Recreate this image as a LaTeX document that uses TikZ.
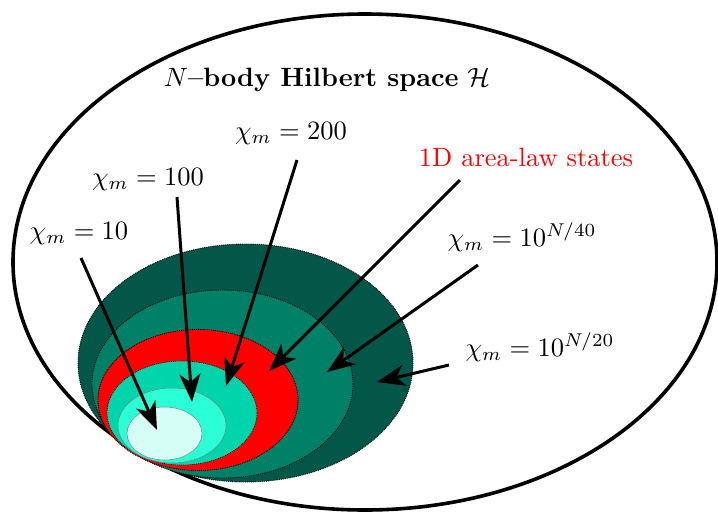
\documentclass[tikz,border=0pt]{standalone}
\usepackage{amsmath}
\usetikzlibrary{arrows.meta}
\definecolor{cdark}{RGB}{3,87,72}
\definecolor{cteal}{RGB}{0,128,102}
\definecolor{cmid}{RGB}{0,212,170}
\definecolor{clight}{RGB}{42,255,213}
\definecolor{cpale}{RGB}{213,255,246}
\tikzset{
  blob/.style={draw=black, line width=0.9pt, densely dotted},
  innerblob/.style={draw=gray, line width=0.5pt},
  pointer/.style={line width=3pt, -{Stealth[length=28pt,width=21pt,inset=8pt]}},
  lab/.style={inner sep=0pt, scale=2.65, transform shape},
}
\begin{document}
\begin{tikzpicture}[x=1pt,y=-1pt]
\useasboundingbox (0,0) rectangle (718,515);
% outer Hilbert space
\draw[line width=3.6pt] (365,262) ellipse [x radius=352, y radius=248];
% nested regions
\fill[cdark] (245.5,363) ellipse [x radius=167.5, y radius=119];
\draw[blob] (245.5,363) ellipse [x radius=167.5, y radius=119];
\fill[cteal] (222.5,384) ellipse [x radius=130.5, y radius=94];
\draw[blob] (222.5,384) ellipse [x radius=130.5, y radius=94];
\fill[red] (198,400) ellipse [x radius=100, y radius=70.5];
\draw[blob] (198,400) ellipse [x radius=100, y radius=70.5];
\fill[cmid] (182,413) ellipse [x radius=75, y radius=52];
\draw[blob,line width=0.6pt] (182,413) ellipse [x radius=75, y radius=52];
\fill[clight] (172,425.5) ellipse [x radius=54, y radius=37.5];
\draw[innerblob] (172,425.5) ellipse [x radius=54, y radius=37.5];
\fill[cpale] (164.5,433.5) ellipse [x radius=37.5, y radius=26.5];
\draw[innerblob] (164.5,433.5) ellipse [x radius=37.5, y radius=26.5];
% labels
\node[lab] (title) at (327,80) {$N$\textbf{--body Hilbert space} $\mathcal{H}$};
\node[lab] (l10) at (79,234) {$\chi_m = 10$};
\node[lab] (l100) at (148,180) {$\chi_m = 100$};
\node[lab] (l200) at (291,134) {$\chi_m = 200$};
\node[lab, text=red] (larea) at (526,157) {1D area-law states};
\node[lab] (l40) at (522,237) {$\chi_m = 10^{N/40}$};
\node[lab] (l20) at (540,347) {$\chi_m = 10^{N/20}$};
% arrow ends
\coordinate (s10) at (81,258);  \coordinate (t10) at (157,430);
\coordinate (s100) at (177,197); \coordinate (t100) at (192,402);
\coordinate (s200) at (297,160); \coordinate (t200) at (226,386);
\coordinate (sarea) at (460,180); \coordinate (tarea) at (269,371);
\coordinate (s40) at (478,265); \coordinate (t40) at (327,372);
\coordinate (s20) at (449,365); \coordinate (t20) at (377,382);
\draw[pointer] (s10) -- (t10);
\draw[pointer] (s100) -- (t100);
\draw[pointer] (s200) -- (t200);
\draw[pointer] (sarea) -- (tarea);
\draw[pointer] (s40) -- (t40);
\draw[pointer] (s20) -- (t20);
\end{tikzpicture}
\end{document}
